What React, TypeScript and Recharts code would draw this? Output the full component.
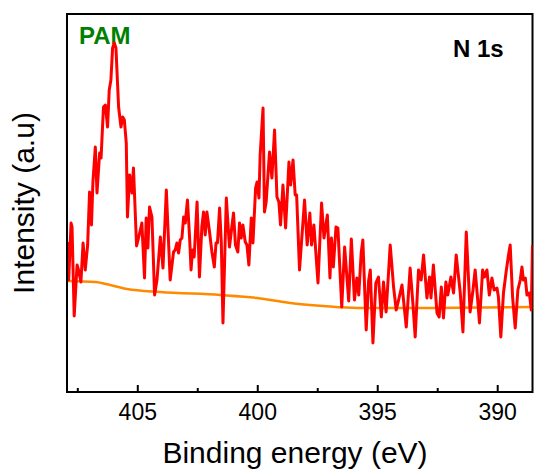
import { LineChart, Line, XAxis, YAxis } from 'recharts';

// N 1s spectrum, binding energy (eV) and counts
const spectrumEnergy = [
  407.93, 407.88, 407.78, 407.74, 407.65, 407.53, 407.47, 407.37, 407.28, 407.19,
  407.09, 407.01, 406.93, 406.87, 406.77, 406.7, 406.59, 406.53, 406.43, 406.35,
  406.26, 406.19, 406.12, 406.05, 405.98, 405.91, 405.8, 405.7, 405.63, 405.56,
  405.48, 405.43, 405.34, 405.24, 405.18, 405.05, 404.94, 404.83, 404.72, 404.65,
  404.58, 404.51, 404.41, 404.3, 404.2, 404.06, 403.95, 403.81, 403.65, 403.51,
  403.44, 403.37, 403.3, 403.23, 403.16, 403.09, 403.02, 402.93, 402.84, 402.78,
  402.72, 402.65, 402.53, 402.43, 402.33, 402.26, 402.19, 402.12, 402.02, 401.91,
  401.81, 401.74, 401.68, 401.59, 401.52, 401.45, 401.31, 401.18, 401.01, 400.93,
  400.83, 400.76, 400.69, 400.62, 400.52, 400.45, 400.37, 400.27, 400.2, 400.09,
  400.03, 399.95, 399.9, 399.78, 399.72, 399.65, 399.51, 399.41, 399.3, 399.2,
  399.12, 399.05, 398.95, 398.84, 398.7, 398.63, 398.53, 398.44, 398.38, 398.26,
  398.05, 397.94, 397.83, 397.76, 397.66, 397.49, 397.34, 397.24, 397.1, 396.99,
  396.93, 396.85, 396.74, 396.66, 396.5, 396.38, 396.21, 396.1, 395.97, 395.87,
  395.79, 395.69, 395.62, 395.48, 395.38, 395.31, 395.2, 395.08, 394.97, 394.85,
  394.76, 394.65, 394.48, 394.34, 394.23, 394.13, 393.99, 393.81, 393.65, 393.53,
  393.44, 393.3, 393.19, 393.09, 392.95, 392.84, 392.78, 392.68, 392.53, 392.44,
  392.35, 392.26, 392.16, 392.08, 391.95, 391.84, 391.73, 391.56, 391.45, 391.31,
  391.15, 391.03, 390.94, 390.84, 390.76, 390.63, 390.55, 390.45, 390.35, 390.24,
  390.15, 390.03, 389.97, 389.87, 389.76, 389.65, 389.55, 389.48, 389.38, 389.27,
  389.16, 389.06, 388.99, 388.93, 388.85, 388.78, 388.68, 388.6, 388.55,
];
const spectrumIntensity = [
  150, 112, 169, 165, 76, 127, 122, 110, 149, 122,
  147, 200, 167, 210, 245, 199, 239, 234, 285, 287,
  265, 302, 312, 344, 349, 344, 285, 265, 275, 272,
  249, 175, 217, 199, 224, 146, 157, 169, 114, 174,
  144, 185, 175, 97, 112, 155, 124, 202, 112, 140,
  142, 149, 139, 152, 154, 175, 169, 192, 154, 122,
  142, 135, 190, 115, 165, 180, 157, 180, 162, 140,
  125, 149, 149, 184, 150, 69, 194, 145, 179, 147,
  140, 169, 154, 167, 150, 147, 127, 174, 149, 204,
  210, 194, 237, 284, 180, 190, 240, 214, 262, 195,
  190, 167, 207, 164, 230, 207, 232, 197, 197, 122,
  192, 147, 179, 147, 167, 109, 189, 154, 177, 114,
  154, 125, 165, 164, 85, 145, 91, 153, 92, 114,
  97, 139, 152, 62, 111, 122, 49, 109, 115, 75,
  110, 80, 147, 105, 82, 92, 107, 65, 124, 87,
  55, 122, 112, 137, 94, 115, 94, 127, 79, 75,
  105, 74, 110, 97, 115, 99, 137, 99, 60, 160,
  80, 102, 122, 94, 69, 122, 115, 122, 97, 114,
  102, 104, 95, 55, 99, 120, 137, 147, 95, 64,
  102, 112, 125, 112, 114, 97, 99, 82, 147,
];

// background (baseline) under the spectrum
const backgroundEnergy = [407.94, 406.77, 406.15, 405.44, 404.06, 401.56, 400.02, 398.65, 397.27, 395.85, 393.1, 388.56];
const backgroundIntensity = [111, 110, 107, 103, 100, 97, 94, 89, 86, 84, 84, 85];

const xTicks = [407.5, 405, 402.5, 400, 397.5, 395, 392.5, 390];

const spectrum = spectrumEnergy.map((e, i) => ({ e, y: spectrumIntensity[i] }));
const background = backgroundEnergy.map((e, i) => ({ e, y: backgroundIntensity[i] }));

const FONT = 'Arial, "Liberation Sans", sans-serif';

const EnergyTick = (props: any) => {
  const { x, y, payload } = props;
  const major = payload.value % 5 === 0;
  return (
    <g>
      <line x1={x} y1={y} x2={x} y2={y - (major ? 7 : 4)} stroke="#000" strokeWidth={2} />
      {major && (
        <text x={x} y={y + 28} textAnchor="middle" fontSize={23} fontFamily={FONT} fill="#000">
          {payload.value}
        </text>
      )}
    </g>
  );
};

const App = () => {
  return (
    <div style={{ position: 'absolute', left: 0, top: 0 }}>
      <LineChart width={534} height={474} margin={{ top: 14, right: 1.5, bottom: 0, left: 0 }}>
        <XAxis
          dataKey="e"
          type="number"
          domain={[388.55, 407.95]}
          reversed
          ticks={xTicks}
          interval={0}
          allowDataOverflow
          tickLine={false}
          tickSize={0}
          tickMargin={0}
          tick={<EnergyTick />}
          height={82}
          axisLine={{ stroke: '#000', strokeWidth: 2 }}
        />
        <YAxis
          domain={[0, 378]}
          width={67}
          tick={false}
          tickLine={false}
          axisLine={{ stroke: '#000', strokeWidth: 2 }}
        />
        {/* plot frame */}
        <rect x={67} y={14} width={465.5} height={378} fill="none" stroke="#000" strokeWidth={2} />
        <Line
          data={background}
          dataKey="y"
          type="monotone"
          stroke="#ff8a00"
          strokeWidth={2.5}
          dot={false}
          activeDot={false}
          isAnimationActive={false}
        />
        <Line
          data={spectrum}
          dataKey="y"
          type="linear"
          stroke="#ff0000"
          strokeWidth={3}
          strokeLinejoin="round"
          dot={false}
          activeDot={false}
          isAnimationActive={false}
        />
        <text x={79} y={44} fontSize={24} fontWeight="bold" fontFamily={FONT} fill="#008000">
          PAM
        </text>
        <text x={453} y={57} fontSize={24} fontWeight="bold" fontFamily={FONT} fill="#000">
          N 1s
        </text>
        <text x={295} y={463} textAnchor="middle" fontSize={30} fontFamily={FONT} fill="#000">
          Binding energy (eV)
        </text>
        <text
          x={34}
          y={203}
          textAnchor="middle"
          fontSize={30}
          fontFamily={FONT}
          fill="#000"
          transform="rotate(-90, 34, 203)"
        >
          Intensity (a.u)
        </text>
      </LineChart>
    </div>
  );
};

export default App;
